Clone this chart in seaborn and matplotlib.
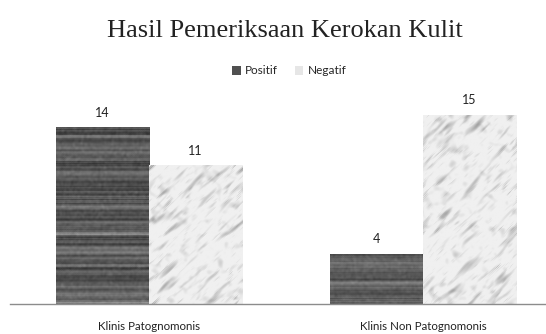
import numpy as np
import pandas as pd
import matplotlib
matplotlib.use("Agg")
import matplotlib.pyplot as plt
from matplotlib.patches import Patch
import seaborn as sns

categories = ["Klinis Patognomonis", "Klinis Non Patognomonis"]
series = ["Positif", "Negatif"]
positif = [14, 4]
negatif = [11, 15]

df = pd.DataFrame({
    "kategori": categories * 2,
    "hasil": [series[0]] * 2 + [series[1]] * 2,
    "jumlah": positif + negatif,
})

sns.set_theme(style="white")
plt.rcParams["font.family"] = ["Lato", "DejaVu Sans"]

fig = plt.figure(figsize=(5.46, 3.34), dpi=100)
H = 334
ax = fig.add_axes([10 / 546, 1 - 304 / H, 1 - 10 / 546, (304 - 102) / H])

colors = {"Positif": "#505050", "Negatif": "#e6e6e6"}
sns.barplot(data=df, x="kategori", y="jumlah", hue="hasil", order=categories,
            hue_order=series, palette=colors, width=0.68, ax=ax,
            legend=False, linewidth=0, saturation=1)

# Texture fills: wood grain for Positif, marble for Negatif
rng = np.random.default_rng(3)


def smooth(a, n):
    for _ in range(n):
        a = (a + np.roll(a, 1, 0) + np.roll(a, -1, 0) + np.roll(a, 1, 1) + np.roll(a, -1, 1)) / 5
    return a


def streak(a, n):
    # smear along the rising diagonal to give marble its grain
    for _ in range(n):
        a = (a + np.roll(np.roll(a, 1, 0), -1, 1) + np.roll(np.roll(a, -1, 0), 1, 1)) / 3
    return a


def norm(a):
    a = a - a.mean()
    return a / (a.std() + 1e-9)


def wood(h, w):
    rows = rng.normal(0, 1, h)
    rows = np.convolve(rows, np.ones(3) / 3, mode="same")
    base = 90 + 30 * rows[:, None]
    noise = smooth(rng.normal(0, 14, (h, w)), 2)
    img = np.clip(base + noise, 30, 150) / 255
    return img


def marble(h, w):
    big = norm(streak(smooth(rng.normal(0, 1, (h, w)), 4), 25))
    small = norm(streak(smooth(rng.normal(0, 1, (h, w)), 1), 6))
    blot = norm(smooth(rng.normal(0, 1, (h, w)), 12))
    dark = np.clip(big - 0.6, 0, None) * 28 + np.clip(small - 1.0, 0, None) * 18 \
        + np.clip(blot - 0.8, 0, None) * 14
    img = 240 - dark
    return np.clip(img, 140, 248) / 255


for container, maker in zip(ax.containers, [wood, marble]):
    for bar in container:
        x0, y0 = bar.get_x(), bar.get_y()
        w, h = bar.get_width(), bar.get_height()
        tex = maker(max(int(h * 13), 12), 93)
        im = ax.imshow(tex, cmap="gray", vmin=0, vmax=1, aspect="auto",
                       extent=(x0, x0 + w, y0, y0 + h), origin="upper",
                       interpolation="bilinear", zorder=bar.get_zorder() + 0.1)
        im.set_clip_path(bar)
    ax.bar_label(container, padding=6, fontsize=9, color="#222222")

ax.set_xlim(-0.507, 1.449)
ax.set_ylim(0, 16)
ax.set_aspect("auto")

for s in ["top", "right", "left"]:
    ax.spines[s].set_visible(False)
ax.spines["bottom"].set_color("#8c8c8c")
ax.spines["bottom"].set_linewidth(1.0)
ax.set_yticks([])
ax.set_xlabel("")
ax.set_ylabel("")
ax.tick_params(axis="x", length=0, pad=12, labelsize=8.3, labelcolor="#222222")

fig.text(0.522, 1 - 31 / H, "Hasil Pemeriksaan Kerokan Kulit",
         ha="center", va="center", fontsize=19, family="Liberation Serif",
         color="#222222")

handles = [Patch(facecolor=colors[s], edgecolor="none", label=s) for s in series]
fig.legend(handles=handles, loc="center", bbox_to_anchor=(0.53, 1 - 71 / H),
           ncol=2, frameon=False, fontsize=8.5, handlelength=0.7, handleheight=0.7,
           handletextpad=0.4, columnspacing=1.4)

fig.savefig("out.png", dpi=100, facecolor="white")
